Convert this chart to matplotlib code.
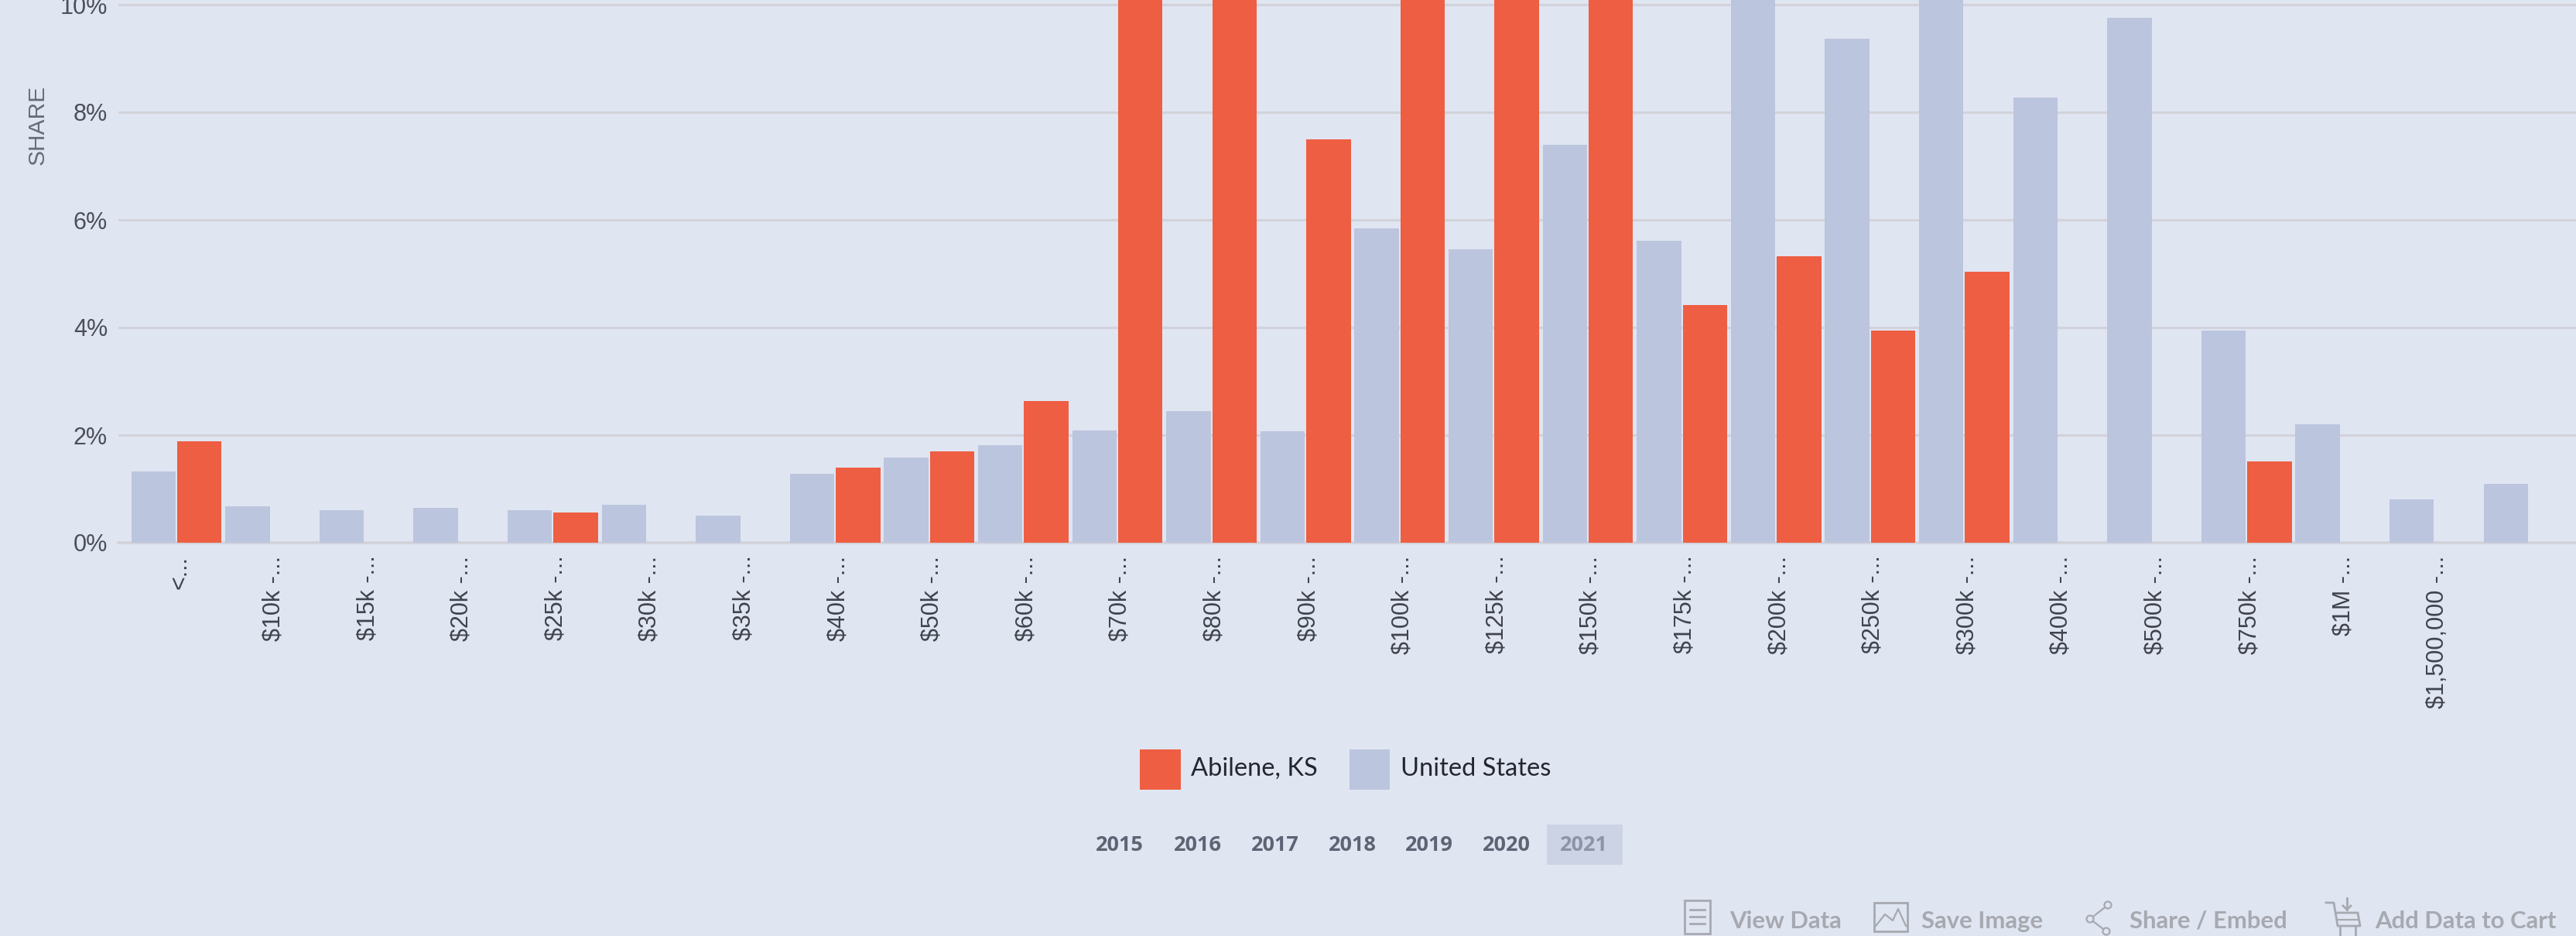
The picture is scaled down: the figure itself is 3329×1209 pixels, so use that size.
import matplotlib
matplotlib.use('Agg')
import numpy as np
import matplotlib.pyplot as plt
from matplotlib.patches import Rectangle, Circle
from matplotlib.transforms import ScaledTranslation

W, H = 3330, 1209
BG = '#e0e5f2'
ORANGE = '#ee5e42'
BLUE = '#bcc5de'
GRID = '#d2d2da'

# ---------------------------- data --------------------------
income_labels = ['<...', '$10k -...', '$15k -...', '$20k -...', '$25k -...', '$30k -...',
                 '$35k -...', '$40k -...', '$50k -...', '$60k -...', '$70k -...', '$80k -...',
                 '$90k -...', '$100k -...', '$125k -...', '$150k -...', '$175k -...',
                 '$200k -...', '$250k -...', '$300k -...', '$400k -...', '$500k -...',
                 '$750k -...', '$1M -...', '$1,500,000 -...', '']

# the tall ones run off the top of the picture, their real height is a guess
abilene = [1.89, 0, 0, 0, 0.56, 0, 0, 1.39, 1.70, 2.64, 13.5, 12.0, 7.50, 11.5, 12.5, 14.0,
           4.42, 5.32, 3.94, 5.03, 0, 0, 1.51, 0, 0, 0]
usa = [1.32, 0.68, 0.61, 0.65, 0.60, 0.70, 0.51, 1.28, 1.585, 1.81, 2.08, 2.45, 2.07, 5.84,
       5.46, 7.39, 5.61, 10.9, 9.37, 10.6, 8.28, 9.76, 3.94, 2.20, 0.81, 1.09]

y_ticks = [0, 2, 4, 6, 8, 10]
years = ['2015', '2016', '2017', '2018', '2019', '2020', '2021']

plt.rcParams['font.family'] = ['Liberation Sans', 'DejaVu Sans']

fig = plt.figure(figsize=(W / 100, H / 100), dpi=100, facecolor=BG)

# ---------------------------- bars --------------------------
# axes box in pixels: left 153, right edge of picture, top of picture, baseline at 701
ax = fig.add_axes([153 / W, (H - 701) / H, (W - 153) / W, 701 / H], facecolor=BG)
x = np.arange(len(income_labels))
ax.bar(x - 0.245, usa, width=0.472, color=BLUE, zorder=3)
ax.bar(x + 0.245, abilene, width=0.472, color=ORANGE, zorder=3)

pitch = 121.6
ax.set_xlim(-75 / pitch, (W - 228) / pitch)
ax.set_ylim(0, 701 / 69.5)

ax.set_yticks(y_ticks)
ax.set_yticklabels([f'{v}%' for v in y_ticks], fontsize=22, color='#4b4f5a')
ax.set_xticks(x)
ax.set_xticklabels(income_labels, rotation=90, fontsize=22, color='#3f434c', ha='center', va='top')
ax.tick_params(axis='x', length=0, pad=12)
ax.tick_params(axis='y', length=0, pad=10)
# labels sit a few pixels right of the group centre
for lab in ax.get_xticklabels():
    lab.set_transform(lab.get_transform() + ScaledTranslation(0.04, 0, fig.dpi_scale_trans))
ax.grid(axis='y', color=GRID, lw=2.2, zorder=1)
ax.axhline(0, color=GRID, lw=2.6, clip_on=False, zorder=2)
for s in ax.spines.values():
    s.set_visible(False)

# ---------------------------- overlay in pixel coords --------------------------
ov = fig.add_axes([0, 0, 1, 1], facecolor='none')
ov.set_xlim(0, W)
ov.set_ylim(H, 0)
ov.axis('off')

ov.text(49, 161, 'SHARE', rotation=90, ha='center', va='center', fontsize=21.5, color='#666b78')

# legend
ov.add_patch(Rectangle((1473, 968), 53, 52, color=ORANGE, lw=0))
ov.add_patch(Rectangle((1744, 968), 52, 52, color=BLUE, lw=0))
ov.text(1539, 993, 'Abilene, KS', family=['Lato', 'DejaVu Sans'], fontsize=23.5, color='#23262e', va='center')
ov.text(1810, 993, 'United States', family=['Lato', 'DejaVu Sans'], fontsize=23.5, color='#23262e', va='center')

# year buttons
year_x = [1447, 1548, 1648, 1748, 1847, 1947, 2047]
ov.add_patch(Rectangle((1999, 1065), 98, 52, color='#ccd3e5', lw=0))
for yr, xp in zip(years, year_x):
    col = '#8d94a8' if yr == '2021' else '#5d6474'
    ov.text(xp, 1092, yr, family=['Open Sans', 'DejaVu Sans'], fontsize=19.5, fontweight='bold',
            color=col, ha='center', va='center')

# toolbar
TOOL = '#a6a9b0'
for label, xp in [('View Data', 2235), ('Save Image', 2483), ('Share / Embed', 2752), ('Add Data to Cart', 3069)]:
    ov.text(xp, 1190, label, family=['Lato', 'DejaVu Sans'], fontsize=22.3, fontweight='bold',
            color=TOOL, va='center')

# view data icon
ov.add_patch(Rectangle((2177, 1163), 33, 43, fill=False, ec=TOOL, lw=2))
for yp in [1175, 1184, 1193]:
    ov.plot([2184, 2203], [yp, yp], color=TOOL, lw=2)
# save image icon
ov.add_patch(Rectangle((2422, 1166), 43, 37, fill=False, ec=TOOL, lw=2))
ov.plot([2424, 2436, 2446, 2453, 2463], [1196, 1181, 1189, 1174, 1196], color=TOOL, lw=1.6)
# share icon
ov.plot([2724, 2701, 2722], [1169, 1187, 1203], color=TOOL, lw=1.6)
for cx, cy in [(2724, 1169), (2701, 1187), (2722, 1203)]:
    ov.add_patch(Circle((cx, cy), 4.5, fc=BG, ec=TOOL, lw=1.6, zorder=5))
# cart icon
ov.plot([3006, 3016, 3021, 3050, 3047, 3021], [1166, 1166, 1196, 1196, 1179, 1179], color=TOOL, lw=2)
ov.plot([3021, 3047], [1188, 1188], color=TOOL, lw=1.6)
ov.plot([3033, 3033], [1160, 1175], color=TOOL, lw=2)
ov.plot([3028, 3033, 3038], [1170, 1175, 1170], color=TOOL, lw=2)
ov.plot([3024, 3024], [1196, 1208], color=TOOL, lw=2)
ov.plot([3044, 3044], [1196, 1208], color=TOOL, lw=2)

fig.savefig('out.png', dpi=100, facecolor=BG)
